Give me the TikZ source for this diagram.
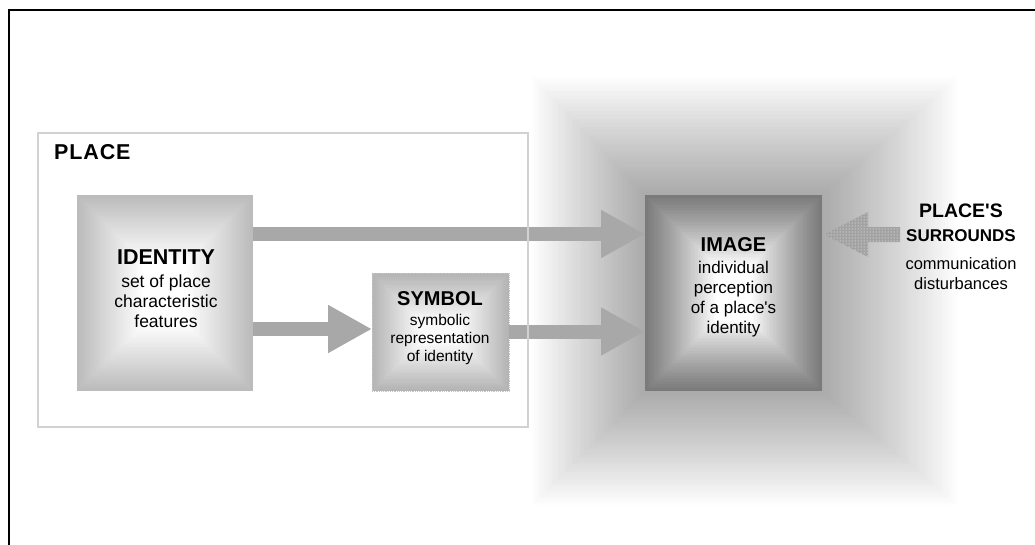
\documentclass[tikz,border=0pt]{standalone}
\usepackage{fontspec}
\setmainfont{Liberation Sans}
\usetikzlibrary{arrows.meta,patterns,calc}
\definecolor{arrowgray}{HTML}{A8A8A8}
\definecolor{placeline}{HTML}{D2D2D2}
\definecolor{dotgray}{HTML}{A2A2A2}
\definecolor{idedge}{HTML}{BBBBBB}
\definecolor{symedge}{HTML}{B4B4B4}
\definecolor{symin}{HTML}{FAFAFA}
\definecolor{imgedge}{HTML}{7A7A7A}
\definecolor{bginner}{HTML}{AAAAAA}
% gradient of nested rectangles: outer x1 y1 x2 y2, inner x1 y1 x2 y2
\newcommand\gradrect[8]{%
 \foreach \gi in {0,...,\gN}{%
  \pgfmathsetmacro\gt{\gi/\gN}%
  \pgfmathsetmacro\gs{min(1,\gt/\gE)}%
  \pgfmathtruncatemacro\gpc{100*(\gA*\gs+(1-\gA)*\gs*\gs)}%
  \path[fill=\gIn!\gpc!\gOut] ({#1+(#5-#1)*\gt},{#2+(#6-#2)*\gt}) rectangle ({#3+(#7-#3)*\gt},{#4+(#8-#4)*\gt});
 }}
\newcommand\ttl[1]{\fontsize{#1}{#1}\selectfont\bfseries}
\newcommand\txtstack[3]{\vtop{\fontsize{#1}{#2}\selectfont\lineskiplimit=-\maxdimen\lineskip=0pt\halign{\hfil##\hfil\cr#3\crcr}}}
\tikzset{
  boxnode/.style={rectangle, inner sep=0pt, outer sep=0pt},
  txt/.style={anchor=base, inner sep=0pt, text=black},
  bigarrow/.style={draw=arrowgray, line width=14pt, -{Triangle[length=44pt,width=45pt]}},
  dotarrow/.style={pattern=dots, pattern color=white, preaction={fill=dotgray}},
}
\begin{document}
\begin{tikzpicture}[x=1pt,y=-1pt]
\useasboundingbox (0,0) rectangle (1035,544);
% outer frame
\draw[line width=2.5pt] (9,548) -- (9,10) -- (1040,10);
% background glow around IMAGE
\def\gN{90}\def\gOut{white}\def\gIn{bginner}\def\gA{1.15}\def\gE{1}
\gradrect{530}{75}{960}{507}{645}{195}{822}{391}
% IDENTITY box
\def\gN{60}\def\gOut{idedge}\def\gIn{white}\def\gA{1}\def\gE{0.75}
\gradrect{77}{195}{253}{391}{165}{283}{165}{303}
% SYMBOL box
\def\gN{50}\def\gOut{symedge}\def\gIn{symin}\def\gA{1}\def\gE{0.8}
\gradrect{372}{273}{509}{391}{431}{332}{450}{332}
% IMAGE box
\def\gN{60}\def\gOut{imgedge}\def\gIn{white}\def\gA{0.8}\def\gE{0.8}
\gradrect{645}{195}{822}{391}{733.5}{283.5}{733.5}{302.5}
% box nodes
\node[boxnode, minimum width=176pt, minimum height=196pt] (id) at (165,293) {};
\node[boxnode, minimum width=137pt, minimum height=118pt, draw=gray!45, densely dotted, line width=0.8pt] (sym) at (440.5,332) {};
\node[boxnode, minimum width=177pt, minimum height=196pt] (img) at (733.5,293) {};
% arrows
\coordinate (a1) at ([yshift=59pt]id.east);
\draw[bigarrow] (a1) -- (a1 -| img.west);
\coordinate (a2) at ([yshift=-36pt]id.east);
\draw[bigarrow] (a2) -- (a2 -| sym.west);
\coordinate (a3) at ([yshift=0.5pt]sym.east);
\draw[bigarrow] (a3) -- (a3 -| img.west);
% surrounds arrow
\coordinate (sr) at (900,234.5);
\coordinate (tipd) at ($(img.east |- sr)+(2,0)$);
\fill[dotarrow] (tipd) -- ++(44,-22.5) -- ++(0,15) -- ++(32,0) -- ++(0,15) -- ++(-32,0) -- ++(0,15) -- cycle;
% PLACE frame
\node[boxnode, draw=placeline, line width=1.5pt, minimum width=490pt, minimum height=294pt] (place) at (283,280) {};
\node[anchor=base west, inner sep=0pt] (placelbl) at (54,159) {\ttl{21.5}\addfontfeatures{LetterSpace=4}PLACE};
% texts
\node[txt] (idtxt) at (166,264) {\txtstack{17.5}{20}{\ttl{21.5}IDENTITY\cr\noalign{\vskip3pt}set of place\cr characteristic\cr features}};
\node[txt] (symtxt) at (440,305) {\txtstack{15.5}{18}{\ttl{20}SYMBOL\cr\noalign{\vskip2pt}symbolic\cr representation\cr of identity}};
\node[txt] (imgtxt) at (733.5,251) {\txtstack{17}{20}{\ttl{20}IMAGE\cr\noalign{\vskip2pt}individual\cr perception\cr of a place\textquotesingle s\cr identity}};
\node[txt] (surtxt) at (961,217) {\txtstack{16.5}{20}{\ttl{19.5}PLACE\textquotesingle S\cr\noalign{\vskip4pt}\ttl{17}SURROUNDS\cr\noalign{\vskip8pt}communication\cr disturbances}};
\end{tikzpicture}
\end{document}
